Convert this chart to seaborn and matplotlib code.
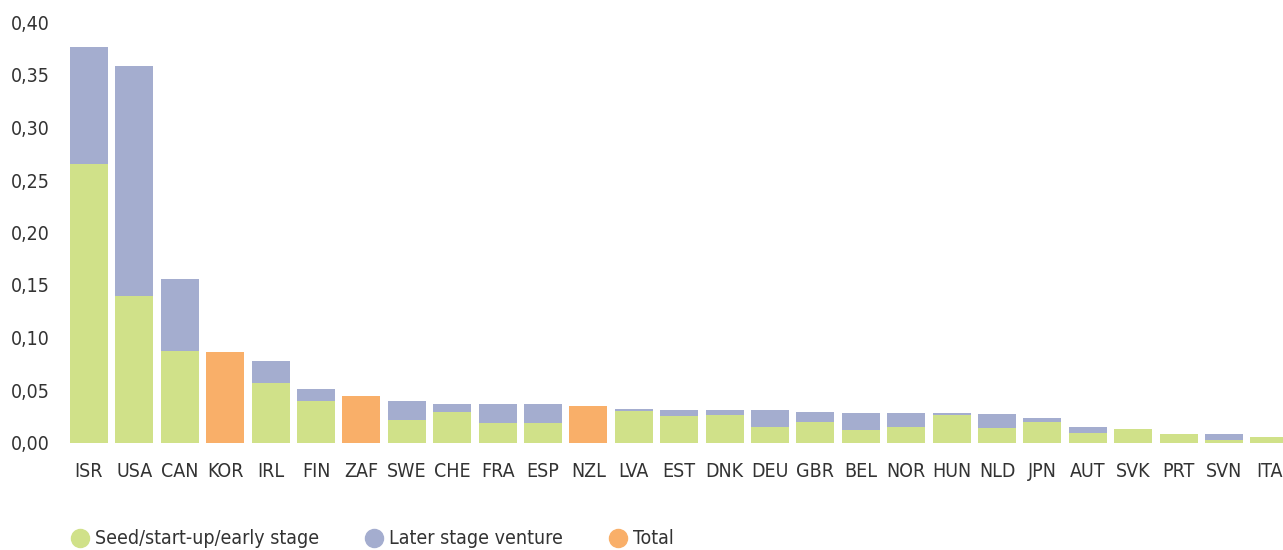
import matplotlib
matplotlib.use("Agg")
import matplotlib.pyplot as plt
from matplotlib import font_manager
from matplotlib.lines import Line2D
from matplotlib.ticker import FuncFormatter
import seaborn as sns
import pandas as pd

# ----------------- DATA -----------------
countries = ["ISR", "USA", "CAN", "KOR", "IRL", "FIN", "ZAF", "SWE", "CHE", "FRA",
             "ESP", "NZL", "LVA", "EST", "DNK", "DEU", "GBR", "BEL", "NOR", "HUN",
             "NLD", "JPN", "AUT", "SVK", "PRT", "SVN", "ITA"]
seed = [0.265, 0.140, 0.087, 0.0, 0.057, 0.040, 0.0, 0.021, 0.029, 0.019,
        0.019, 0.0, 0.030, 0.025, 0.026, 0.015, 0.0195, 0.012, 0.015, 0.026,
        0.014, 0.0195, 0.009, 0.013, 0.008, 0.0025, 0.005]
later = [0.112, 0.219, 0.069, 0.0, 0.021, 0.011, 0.0, 0.019, 0.008, 0.018,
         0.018, 0.0, 0.002, 0.006, 0.005, 0.016, 0.0095, 0.016, 0.013, 0.002,
         0.013, 0.0035, 0.006, 0.0, 0.0, 0.0055, 0.0]
total = [0.0, 0.0, 0.0, 0.086, 0.0, 0.0, 0.044, 0.0, 0.0, 0.0,
         0.0, 0.035, 0.0, 0.0, 0.0, 0.0, 0.0, 0.0, 0.0, 0.0,
         0.0, 0.0, 0.0, 0.0, 0.0, 0.0, 0.0]
legend_labels = ["Seed/start-up/early stage", "Later stage venture", "Total"]

# ----------------- STYLE -----------------
green = "#D0E189"
blue = "#A4ADCF"
orange = "#F9AF69"
text_color = "#333333"

sns.set_style("white")

# pick a narrow font if one is installed
fonts = font_manager.fontManager.ttflist
names = {f.name for f in fonts}
condensed_dejavu = any(f.name == "DejaVu Sans" and str(f.stretch) in ("condensed", "semi-condensed", "500")
                       for f in fonts)
if "Liberation Sans Narrow" in names:
    plt.rcParams['font.family'] = ['Liberation Sans Narrow', 'DejaVu Sans']
    fsize = 15
elif condensed_dejavu:
    plt.rcParams['font.family'] = ['DejaVu Sans']
    plt.rcParams['font.stretch'] = 'condensed'
    fsize = 14
else:
    plt.rcParams['font.family'] = ['Liberation Sans', 'DejaVu Sans']
    fsize = 12

df = pd.DataFrame({"country": countries, "seed": seed, "later": later, "total": total})
df["stack"] = df["seed"] + df["later"]

fig = plt.figure(figsize=(12.83, 5.5), dpi=100)
ax = fig.add_axes([66.3 / 1283, 107.5 / 550, 1 - 66.3 / 1283, 420 / 550])

bar_w = 0.84
sns.barplot(data=df, x="country", y="stack", order=countries, color=blue,
            width=bar_w, saturation=1, linewidth=0, ax=ax)
sns.barplot(data=df, x="country", y="seed", order=countries, color=green,
            width=bar_w, saturation=1, linewidth=0, ax=ax)
sns.barplot(data=df, x="country", y="total", order=countries, color=orange,
            width=bar_w, saturation=1, linewidth=0, ax=ax)

ax.set_xlim(-0.5, 26.3)
ax.set_ylim(0, 0.40)
ax.set_yticks([0.0, 0.05, 0.10, 0.15, 0.20, 0.25, 0.30, 0.35, 0.40])
ax.yaxis.set_major_formatter(FuncFormatter(lambda v, p: f"{v:.2f}".replace(".", ",")))
ax.set_xlabel("")
ax.set_ylabel("")
ax.tick_params(axis="both", length=0, labelsize=fsize, colors=text_color)
ax.tick_params(axis="y", pad=12)
ax.tick_params(axis="x", pad=14)
for s in ax.spines.values():
    s.set_visible(False)

# ----------------- LEGEND -----------------
handles = [Line2D([0], [0], marker="o", linestyle="", markersize=13, markerfacecolor=c,
                  markeredgecolor=c) for c in [green, blue, orange]]
fig.legend(handles, legend_labels, loc="center left", bbox_to_anchor=(70 / 1283, 11 / 550),
           ncol=3, frameon=False, fontsize=fsize, handlelength=1.0, handletextpad=0.3,
           columnspacing=2.3, borderpad=0, borderaxespad=0, labelcolor=text_color)

fig.savefig("out.png", dpi=100)
plt.close(fig)
